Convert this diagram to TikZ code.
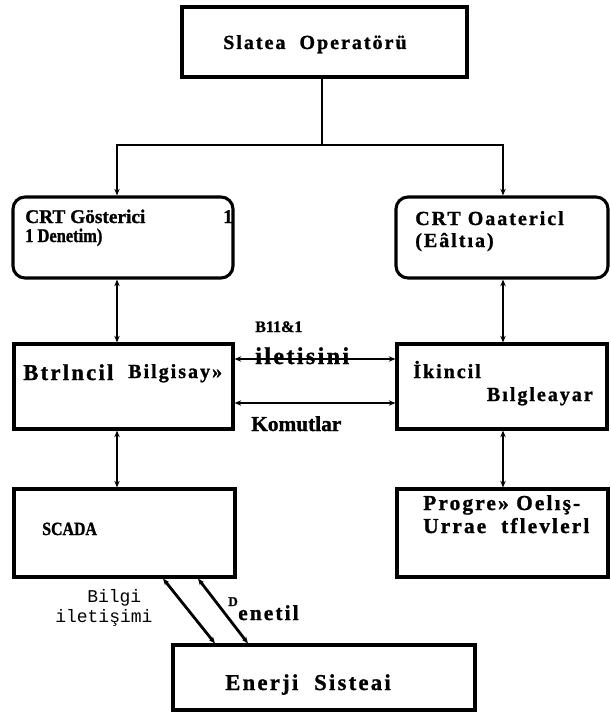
\documentclass[tikz,border=0pt]{standalone}
\usepackage{fontspec}
\setmainfont{Liberation Serif}[BoldFeatures={FakeBold=1.2}]
\setmonofont{Liberation Mono}
\newfontfamily\spaced[LetterSpace=10, BoldFeatures={FakeBold=1.2}]{Liberation Serif}
\newfontfamily\narrow[FakeStretch=0.85, BoldFeatures={FakeBold=1.2}]{Liberation Serif}
\usetikzlibrary{arrows.meta,calc}

\begin{document}
\begin{tikzpicture}[
  x=0.75pt, y=-0.75pt,
  box/.style={rectangle, draw, line width=2.3pt, inner sep=0pt},
  rbox/.style={box, rounded corners=9pt},
  lbl/.style={anchor=base west, inner sep=0pt, font=\bfseries\fontsize{15}{18}\selectfont},
  wide/.style={lbl, font=\spaced\bfseries\fontsize{15}{18}\selectfont},
  link/.style={draw, line width=2.1pt, {Stealth[length=5pt,width=4pt]}-{Stealth[length=5pt,width=4pt]}}
]
  \useasboundingbox (0,0) rectangle (610,713);

  % boxes
  \node[box, minimum width=213.75pt, minimum height=52.5pt] (oper) at (324.5,42) {};
  \node[rbox, minimum width=165pt, minimum height=60.75pt] (crtL) at (123,237.5) {};
  \node[rbox, minimum width=159pt, minimum height=60.75pt] (crtR) at (502,237.5) {};
  \node[box, minimum width=164.25pt, minimum height=63.75pt] (birincil) at (123.5,386.5) {};
  \node[box, minimum width=157.5pt, minimum height=63.75pt] (ikincil) at (502,386.5) {};
  \node[box, minimum width=165.75pt, minimum height=66pt] (scada) at (124.5,533) {};
  \node[box, minimum width=158.25pt, minimum height=66pt] (program) at (502.5,533) {};
  \node[box, minimum width=226.5pt, minimum height=48.75pt] (enerji) at (324,677.5) {};

  % texts
  \node[wide] (tOper) at (223,49) {Slatea\ \ Operatörü};
  \node[lbl, font=\bfseries\fontsize{14.5}{17}\selectfont] (tCrtL) at (25,223) {CRT\ Gösterici};
  \node[lbl, font=\bfseries\fontsize{14.5}{17}\selectfont] (tCrtLa) at (223,223) {1};
  \node[lbl, font=\narrow\bfseries\fontsize{14.5}{17}\selectfont] (tCrtLb) at (25,242) {1 Denetim)};
  \node[lbl, font=\spaced\bfseries\fontsize{15}{18}\selectfont] (tCrtR) at (415,225) {CRT Oaatericl};
  \node[wide] (tCrtRb) at (415,247) {(Eâltıa)};
  \node[wide, font=\spaced\bfseries\fontsize{17}{20}\selectfont] (tBir) at (23,380) {Btrlncil};
  \node[wide] (tBirb) at (128,378) {Bilgisay»};
  \node[wide] (tIki) at (413,378) {İkincil};
  \node[wide, anchor=base east] (tIkib) at (593,401) {Bılgleayar};
  \node[lbl, font=\bfseries\fontsize{12}{14}\selectfont] (tB11) at (255,332) {B11\&1};
  \node[wide, font=\spaced\bfseries\fontsize{18}{20}\selectfont] (tIlet) at (255,364) {iletisini};
  \node[lbl, font=\bfseries\fontsize{16}{18}\selectfont] (tKom) at (251,431) {Komutlar};
  \node[lbl, font=\narrow\bfseries\fontsize{14}{17}\selectfont] (tScada) at (42,535) {SCADA};
  \node[wide, font=\spaced\bfseries\fontsize{16}{18}\selectfont] (tProg) at (423,510) {Progre»\ Oelış-};
  \node[wide, font=\spaced\bfseries\fontsize{16}{18}\selectfont] (tProgb) at (423,533) {Urrae\ \ tflevlerl};
  \node[lbl, font=\ttfamily\fontsize{13.5}{16}\selectfont] (tBilgi) at (87,602) {Bilgi};
  \node[lbl, font=\ttfamily\fontsize{13.5}{16}\selectfont] (tBilgib) at (55,622) {iletişimi};
  \node[lbl, font=\bfseries\fontsize{10}{11}\selectfont] (tDen) at (228,606) {D};
  \node[wide, font=\spaced\bfseries\fontsize{16}{18}\selectfont] (tDenb) at (238,620) {enetil};
  \node[wide, font=\spaced\bfseries\fontsize{17}{20}\selectfont] (tEner) at (225,690) {Enerji\ \ Sisteai};

  % connectors
  \coordinate (jn) at (322,145);
  \coordinate (colL) at (117,0);
  \coordinate (colR) at (503,0);
  \draw[line width=2.1pt] (oper.south -| jn) -- (jn);
  \draw[link] (crtL.north -| colL) |- (jn) -| (crtR.north -| colR);
  \draw[link] (crtL.south -| colL) -- (birincil.north -| colL);
  \draw[link] (birincil.south -| colL) -- (scada.north -| colL);
  \draw[link] (crtR.south -| colR) -- (ikincil.north -| colR);
  \draw[link] (ikincil.south -| colR) -- (program.north -| colR);
  \draw[link] ($(birincil.east)+(0,-27.5)$) -- ($(ikincil.west)+(0,-27.5)$);
  \draw[link] ($(birincil.east)+(0,16.5)$) -- ($(ikincil.west)+(0,16.5)$);
  \draw[link] ($(scada.south)+(38.5,0)$) -- ($(enerji.north)+(-109,0)$);
  \draw[link] ($(scada.south)+(73.5,0)$) -- ($(enerji.north)+(-76,0)$);
\end{tikzpicture}
\end{document}
